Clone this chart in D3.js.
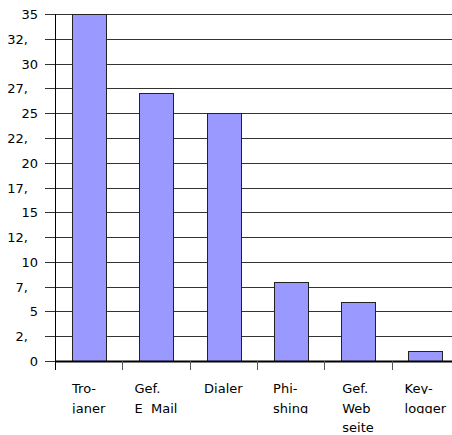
<!DOCTYPE html>
<html>
<head>
<meta charset="utf-8">
<script src="https://cdn.jsdelivr.net/npm/d3@7"></script>
<style>
  body { margin: 0; background: #fff; }
  svg { display: block; }
  text { font-family: "DejaVu Sans", Verdana, sans-serif; font-size: 13px; fill: #000; }
</style>
</head>
<body>
<div id="chart"></div>
<script>
const categories = [["Tro-", "janer"], ["Gef.", "E  Mail"], ["Dialer"], ["Phi-", "shing"], ["Gef.", "Web", "seite"], ["Key-", "logger"]];
const values = [35, 27, 25, 8, 6, 1];
const tickValues = [0, 2.5, 5, 7.5, 10, 12.5, 15, 17.5, 20, 22.5, 25, 27.5, 30, 32.5, 35];
const tickLabels = ["0", "2,", "5", "7,", "10", "12,", "15", "17,", "20", "22,", "25", "27,", "30", "32,", "35"];

const width = 452, height = 435;
const plotLeft = 55, plotRight = 459, plotTop = 14, plotBottom = 361;

const svg = d3.select("#chart").append("svg")
    .attr("width", width).attr("height", height);

const x = d3.scaleBand().domain(d3.range(categories.length)).range([plotLeft, plotRight]).padding(0);
const y = d3.scaleLinear().domain([0, 35]).range([plotBottom, plotTop]);

// gridlines
svg.append("g").selectAll("line").data(tickValues.slice(1)).join("line")
    .attr("x1", plotLeft).attr("x2", plotRight)
    .attr("y1", d => Math.round(y(d)) + 0.5).attr("y2", d => Math.round(y(d)) + 0.5)
    .attr("stroke", "#333").attr("stroke-width", 1);

// y ticks + labels
const yt = svg.append("g");
tickValues.forEach((v, i) => {
    const yy = Math.round(y(v)) + 0.5;
    yt.append("line").attr("x1", plotLeft - 10).attr("x2", plotLeft).attr("y1", yy).attr("y2", yy)
        .attr("stroke", "#333");
    const isInt = Number.isInteger(v);
    yt.append("text").attr("x", isInt ? 38 : 28).attr("y", yy).attr("dy", "0.36em")
        .attr("text-anchor", "end").text(tickLabels[i]);
});

// bars
svg.append("g").selectAll("rect").data(values).join("rect")
    .attr("x", (d, i) => Math.round(x(i) + x.bandwidth() * 0.25) + 0.5)
    .attr("width", Math.round(x.bandwidth() * 0.5))
    .attr("y", d => Math.round(y(d)) + 0.5)
    .attr("height", d => Math.round(y(0)) - Math.round(y(d)))
    .attr("fill", "#9999ff").attr("stroke", "#222").attr("stroke-width", 1);

// axes
svg.append("line").attr("x1", plotLeft).attr("x2", plotRight).attr("y1", y(0) + 0.5).attr("y2", y(0) + 0.5)
    .attr("stroke", "#000").attr("stroke-width", 2);
svg.append("line").attr("x1", plotLeft + 0.5).attr("x2", plotLeft + 0.5).attr("y1", plotTop).attr("y2", plotBottom + 9)
    .attr("stroke", "#000").attr("stroke-width", 1);
svg.append("g").selectAll("line").data(d3.range(1, categories.length)).join("line")
    .attr("x1", i => Math.round(x(i)) + 0.5).attr("x2", i => Math.round(x(i)) + 0.5)
    .attr("y1", plotBottom).attr("y2", plotBottom + 9)
    .attr("stroke", "#555");

// category labels (left-aligned block centred in band, descenders clipped)
const defs = svg.append("defs");
categories.forEach((lines, i) => {
    const g = svg.append("g");
    const texts = lines.map((s, j) => {
        const base = 393 + j * 19.5;
        const id = `clip-${i}-${j}`;
        defs.append("clipPath").attr("id", id).append("rect")
            .attr("x", x(i)).attr("y", base - 16).attr("width", x.bandwidth()).attr("height", 17);
        return g.append("text").attr("y", base).attr("clip-path", `url(#${id})`)
            .attr("xml:space", "preserve").text(s);
    });
    const w = d3.max(texts, t => t.node().getComputedTextLength());
    const x0 = x(i) + x.bandwidth() / 2 - w / 2;
    texts.forEach(t => t.attr("x", x0));
    lines.forEach((s, j) => defs.select(`#clip-${i}-${j} rect`).attr("x", x0 - 2).attr("width", w + 4));
});
</script>
</body>
</html>
